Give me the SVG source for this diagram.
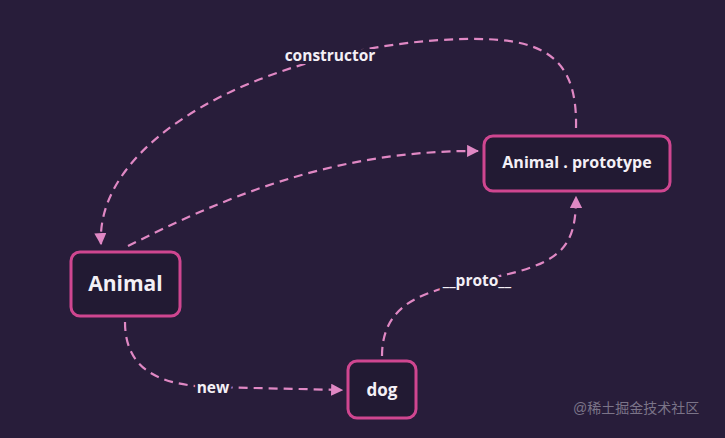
<svg xmlns="http://www.w3.org/2000/svg" width="725" height="438" viewBox="0 0 725 438">
<defs>
<style>
.node rect{fill:#221a33;stroke:#cf4690;stroke-width:3}
.node text{font-family:"Open Sans",Lato,sans-serif;font-weight:700;fill:#f4f0f6;text-anchor:middle;dominant-baseline:central}
.edge{fill:none;stroke:#e088c4;stroke-width:2.2;stroke-dasharray:9 6}
.lbl{font-family:"Open Sans",Lato,sans-serif;font-weight:700;font-size:15.5px;fill:#f4f0f6;text-anchor:middle;dominant-baseline:central;paint-order:stroke;stroke:#281d3a;stroke-width:6}
</style>
<marker id="ah" viewBox="0 0 10 10" refX="9" refY="5" markerWidth="5.5" markerHeight="5.5" orient="auto" markerUnits="strokeWidth">
<path d="M0,0 L10,5 L0,10 z" fill="#e088c4"/>
</marker>
</defs>
<rect width="725" height="438" fill="#281d3a"/>
<g id="connectors">
<path class="edge" d="M576,128 C578,45 530,35 440,40 C260,52 95,140 101,244" marker-end="url(#ah)"/>
<path class="edge" d="M128,246 C220,200 330,150 478,151" marker-end="url(#ah)"/>
<path class="edge" d="M125,322 C125,370 160,385 210,387 L342,390" marker-end="url(#ah)"/>
<path class="edge" d="M382,356 C382,300 430,290 480,280 C560,265 576,250 576,197" marker-end="url(#ah)"/>
<text class="lbl" x="330" y="55">constructor</text>
<text class="lbl" x="213" y="387">new</text>
<text class="lbl" x="477" y="280">__proto__</text>
</g>
<g id="animal" class="node">
<rect x="71" y="252" width="109" height="64" rx="9"/>
<text x="125.5" y="283" font-size="21">Animal</text>
</g>
<g id="animal-prototype" class="node">
<rect x="484" y="136" width="186" height="55" rx="9"/>
<text x="577" y="162" font-size="16">Animal . prototype</text>
</g>
<g id="dog" class="node">
<rect x="348" y="361" width="68" height="57" rx="9"/>
<text x="382" y="389" font-size="17">dog</text>
</g>
<text x="573" y="413" font-family="'Liberation Sans','Noto Sans CJK SC',sans-serif" font-size="14" fill="#7b7488">@稀土掘金技术社区</text>
</svg>
